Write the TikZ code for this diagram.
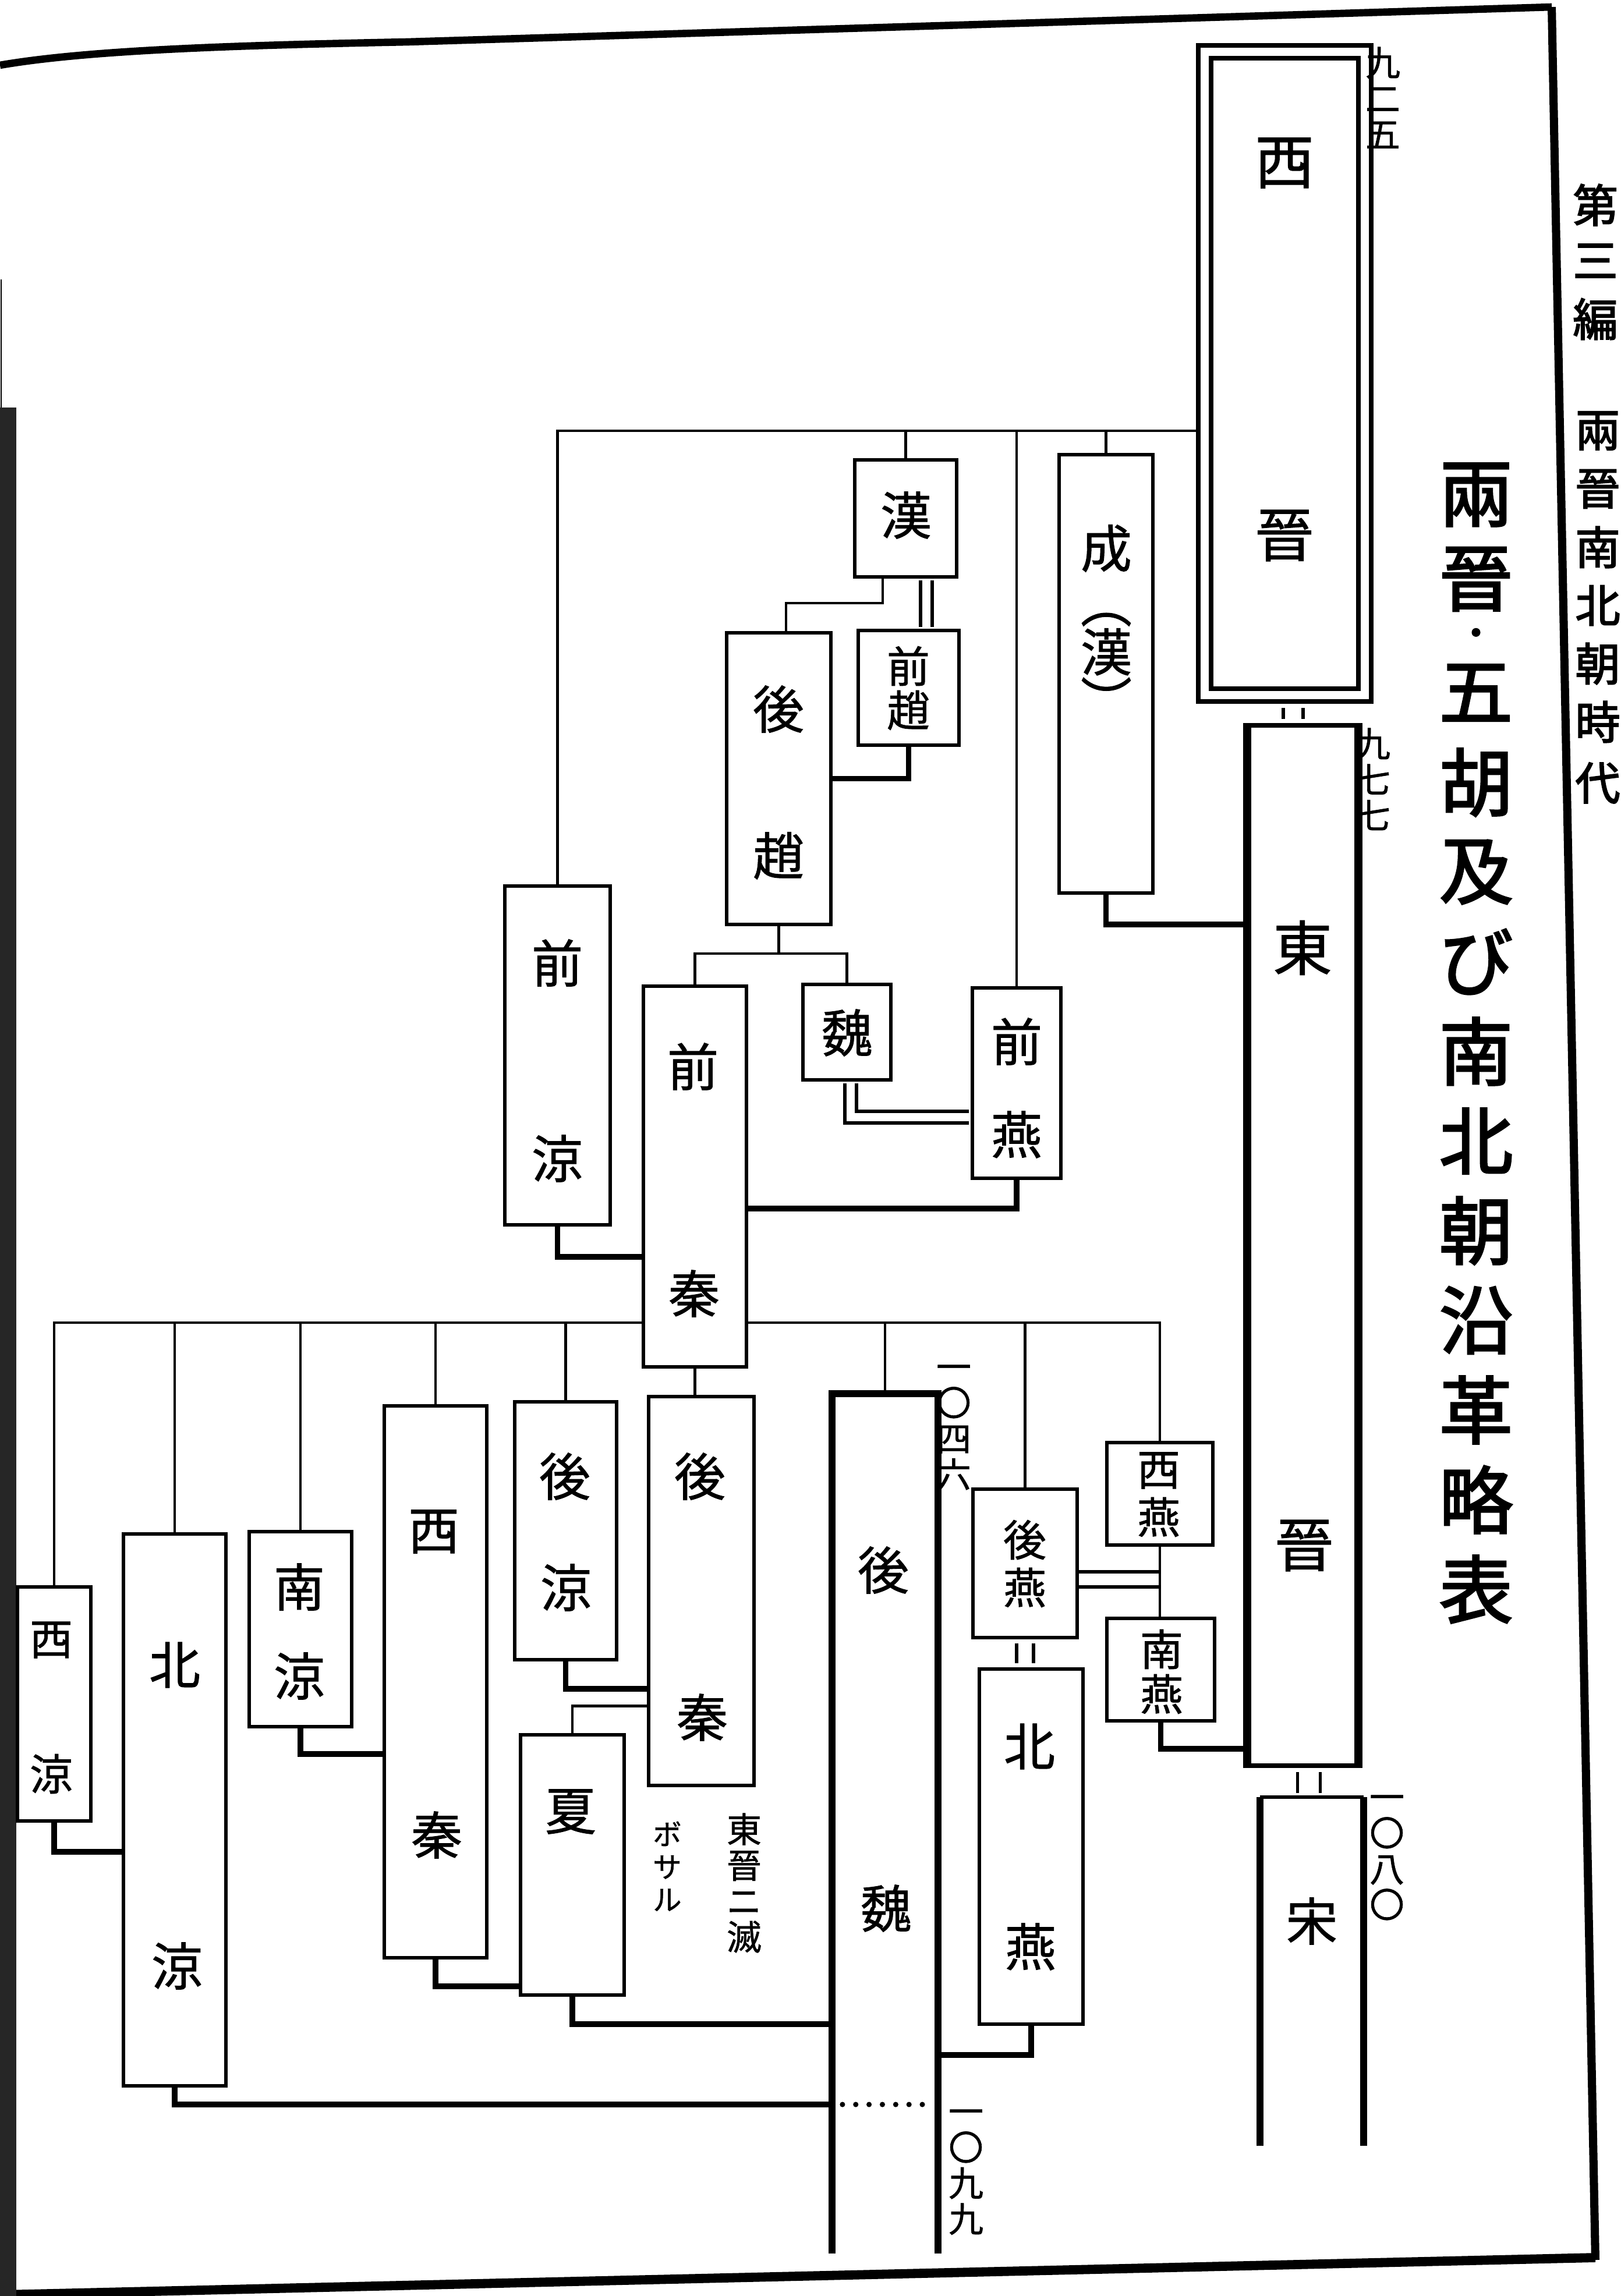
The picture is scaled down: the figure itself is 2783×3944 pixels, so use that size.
\documentclass[tikz,border=0pt]{standalone}
\usepackage{fontspec}
\usepackage{tikz}
\usetikzlibrary{fit,calc}
\newfontfamily\cjk{Noto Sans CJK JP}[FakeBold=1]
\newfontfamily\cjkbold{Noto Sans CJK JP}[FakeBold=2.5]

\tikzset{
  box/.style={draw, line width=1.7pt, inner sep=0pt},
  openbox/.style={inner sep=0pt},
  rim/.style={line width=1.7pt},
  thickside/.style={line width=3.4pt},
  link/.style={line width=1.4pt},
  heavy/.style={line width=2.8pt},
  succ/.style={double, double distance=#1, line width=1.6pt},
  succ/.default=4pt,
  dots/.style={line width=2.6pt, line cap=round, dash pattern=on 0pt off 6.5pt},
  lbl/.style={font=\cjk\fontsize{25}{25}\selectfont, inner sep=0pt},
  biglbl/.style={font=\cjk\fontsize{29}{29}\selectfont, inner sep=0pt},
  smalllbl/.style={font=\cjk\fontsize{21}{21}\selectfont, inner sep=0pt},
  num/.style={font=\cjk\fontsize{17}{17.5}\selectfont, align=center, inner sep=0pt, anchor=north},
  title/.style={font=\cjkbold\fontsize{36}{36}\selectfont, inner sep=0pt},
  sidetext/.style={font=\cjkbold\fontsize{22}{22}\selectfont, inner sep=0pt},
  frame/.style={line width=3.6pt}
}

\begin{document}
\begin{tikzpicture}[x=0.01cm, y=-0.01cm]
\useasboundingbox (0,0) rectangle (2783,3944);

% Page frame
\draw[frame] (0,112) .. controls (150,86) and (400,78) .. (700,72) -- (2665,12);
\draw[frame, line width=4pt] (2665,12) -- (2740,3882);
\draw[frame, line width=4.5pt] (0,3942) -- (2740,3878);
\fill[black!85] (0,700) rectangle (28,3944);
\draw[line width=0.8pt] (2,480) -- (2,700);

% Western and Eastern Jin, Song
\node[box, line width=2.4pt, fit={(2058,78) (2355,1205)}] (xijin) {};
\node[box, line width=2.4pt, fit={(2080,100) (2333,1183)}] (xijin-in) {};
\node[biglbl] (xijin-a) at (2206,280) {西};
\node[biglbl] (xijin-b) at (2206,920) {晉};

\node[box, line width=2.2pt, fit={(2145,1246) (2330,3033)}] (dongjin) {};
\draw[thickside] (dongjin.north west) -- (dongjin.south west) (dongjin.north east) -- (dongjin.south east);
\node[biglbl] (dongjin-a) at (2237,1628) {東};
\node[biglbl] (dongjin-b) at (2240,2655) {晉};

\node[openbox, fit={(2165,3088) (2341,3685)}] (song) {};
\draw[rim] (song.north west) -- (song.north east);
\draw[thickside] (song.north west) -- (song.south west) (song.north east) -- (song.south east);
\node[lbl] (song-a) at (2253,3300) {宋};

% Han, Former Zhao, Later Zhao, Cheng
\node[box, fit={(1468,790) (1643,991)}] (han) {};
\node[lbl] (han-a) at (1556,885) {漢};
\node[box, fit={(1474,1083) (1647,1280)}] (qianzhao) {};
\node[smalllbl] (qianzhao-a) at (1560,1144) {前};
\node[smalllbl] (qianzhao-b) at (1560,1220) {趙};
\node[box, fit={(1248,1087) (1427,1588)}] (houzhao) {};
\node[lbl] (houzhao-a) at (1337,1218) {後};
\node[lbl] (houzhao-b) at (1337,1470) {趙};
\node[box, fit={(1819,781) (1980,1534)}] (cheng) {};
\node[lbl] (cheng-a) at (1900,942) {成};
\node[lbl, font=\cjk\fontsize{25}{21}\selectfont, align=center] (cheng-b) at (1900,1145) {︵\\漢\\︶};

% Former Liang, Former Qin, Wei, Former Yan
\node[box, fit={(867,1522) (1048,2104)}] (qianliang) {};
\node[lbl] (qianliang-a) at (957,1654) {前};
\node[lbl] (qianliang-b) at (957,1990) {涼};
\node[box, fit={(1105,1694) (1282,2348)}] (qianqin) {};
\node[lbl] (qianqin-a) at (1190,1832) {前};
\node[lbl] (qianqin-b) at (1192,2222) {秦};
\node[box, fit={(1379,1691) (1530,1855)}] (wei) {};
\node[lbl] (wei-a) at (1455,1774) {魏};
\node[box, fit={(1670,1697) (1822,2024)}] (qianyan) {};
\node[lbl] (qianyan-a) at (1746,1789) {前};
\node[lbl] (qianyan-b) at (1746,1949) {燕};

% Lower row
\node[box, fit={(30,2726) (156,3128)}] (xiliang) {};
\node[smalllbl] (xiliang-a) at (88,2817) {西};
\node[smalllbl] (xiliang-b) at (88,3047) {涼};
\node[box, fit={(212,2635) (388,3583)}] (beiliang) {};
\node[lbl] (beiliang-a) at (300,2860) {北};
\node[lbl] (beiliang-b) at (304,3377) {涼};
\node[box, fit={(428,2631) (604,2966)}] (nanliang) {};
\node[lbl] (nanliang-a) at (514,2726) {南};
\node[lbl] (nanliang-b) at (514,2879) {涼};
\node[box, fit={(660,2415) (836,3363)}] (xiqin) {};
\node[lbl] (xiqin-a) at (745,2631) {西};
\node[lbl] (xiqin-b) at (750,3152) {秦};
\node[box, fit={(884,2408) (1059,2851)}] (houliang) {};
\node[lbl] (houliang-a) at (970,2536) {後};
\node[lbl] (houliang-b) at (972,2727) {涼};
\node[box, fit={(894,2980) (1072,3427)}] (xia) {};
\node[lbl] (xia-a) at (980,3112) {夏};
\node[box, fit={(1114,2399) (1295,3067)}] (houqin) {};
\node[lbl] (houqin-a) at (1202,2536) {後};
\node[lbl] (houqin-b) at (1206,2950) {秦};

\node[openbox, fit={(1430,2395) (1610,3870)}] (houwei) {};
\draw[thickside] (houwei.south west) -- (houwei.north west) -- (houwei.north east) -- (houwei.south east);
\node[lbl] (houwei-a) at (1517,2697) {後};
\node[lbl] (houwei-b) at (1522,3278) {魏};

\node[box, fit={(1671,2558) (1850,2813)}] (houyan) {};
\node[smalllbl] (houyan-a) at (1760,2645) {後};
\node[smalllbl] (houyan-b) at (1760,2727) {燕};
\node[box, fit={(1682,2867) (1860,3477)}] (beiyan) {};
\node[lbl] (beiyan-a) at (1768,3000) {北};
\node[lbl] (beiyan-b) at (1770,3344) {燕};
\node[box, fit={(1901,2478) (2083,2654)}] (xiyan) {};
\node[smalllbl] (xiyan-a) at (1990,2526) {西};
\node[smalllbl] (xiyan-b) at (1990,2606) {燕};
\node[box, fit={(1901,2780) (2086,2956)}] (nanyan) {};
\node[smalllbl] (nanyan-a) at (1995,2833) {南};
\node[smalllbl] (nanyan-b) at (1995,2910) {燕};

% Numbers
\node[num] (n925) at (2375,80) {九\\二\\五};
\node[num] (n977) at (2358,1250) {九\\七\\七};
\node[num] (n1046) at (1638,2344) {一\\〇\\四\\六};
\node[num] (n1080) at (2382,3083) {一\\〇\\八\\〇};
\node[num] (n1099) at (1659,3623) {一\\〇\\九\\九};

% Note under Later Qin
\node[num] (note-a) at (1278,3114) {東\\晉\\ニ\\滅};
\node[num, font=\cjk\fontsize{14}{16}\selectfont] (note-b) at (1146,3128) {ボ\\サ\\ル};

% Junction points
\coordinate (westbar) at (0,740);
\coordinate (hanbend1) at (1516,1036);
\coordinate (hanbend2) at (1350,1036);
\coordinate (hanqz) at (1591,0);
\coordinate (jinjin) at (2221,0);
\coordinate (jinsong) at (2248,0);
\coordinate (chengjin) at (0,1588);
\coordinate (zhaofork) at (0,1638);
\coordinate (weiyan) at (1461,1919);
\coordinate (yanqin) at (0,2076);
\coordinate (liangqin) at (0,2159);
\coordinate (qinbar) at (0,2272);
\coordinate (hlhq) at (0,2901);
\coordinate (xiahq) at (0,2930);
\coordinate (nydj) at (0,3004);
\coordinate (nlxq) at (0,3013);
\coordinate (xlbl) at (0,3181);
\coordinate (xqxia) at (0,3412);
\coordinate (xiahw) at (0,3477);
\coordinate (byhw) at (0,3530);
\coordinate (blhw) at (0,3615);
\coordinate (yanjoin) at (1992,2713);

% Upper bar from Western Jin
\draw[link] (qianliang.north) |- (westbar -| xijin.west);
\foreach \s in {han, cheng, qianyan}
  \draw[link] (\s.north) -- (\s.north |- westbar);

% Succession marks
\draw[succ=8pt, shorten <=2pt, shorten >=2pt] (jinjin |- xijin.south) -- (jinjin |- dongjin.north);
\draw[succ=9.5pt, shorten <=2pt, shorten >=2pt] (jinsong |- dongjin.south) -- (jinsong |- song.north);
\draw[succ, shorten <=0.9pt, shorten >=0.9pt] (hanqz |- han.south) -- (hanqz |- qianzhao.north);
\draw[succ=6.5pt, shorten <=2pt, shorten >=2pt] (houyan.south) -- (houyan.south |- beiyan.north);
\draw[succ, line join=miter, shorten <=0.9pt, shorten >=0.9pt] (weiyan |- wei.south) |- (weiyan -| qianyan.west);
\draw[succ=5.7pt] (yanjoin -| houyan.east) -- (yanjoin);

% Han to Later Zhao, Later Zhao fork
\draw[link] (hanbend1 |- han.south) -- (hanbend1) -- (hanbend2) -- (hanbend2 |- houzhao.north);
\draw[link] (houzhao.south) -- (houzhao.south |- zhaofork);
\draw[link] (qianqin.north) |- (zhaofork -| wei.north) -- (wei.north);

% Lower bar from Former Qin
\draw[link] (xiliang.north) |- (qinbar -| qianqin.west);
\draw[link] (xiyan.north) |- (qinbar -| qianqin.east);
\foreach \s in {beiliang, nanliang, xiqin, houliang, houwei, houyan}
  \draw[link] (\s.north) -- (\s.north |- qinbar);
\draw[link] (qianqin.south) -- (qianqin.south |- houqin.north);
\draw[link] (xiyan.south) -- (xiyan.south |- nanyan.north);

% Conquests
\draw[heavy] (qianzhao.south) |- (houzhao.east);
\draw[heavy] (cheng.south) |- (chengjin -| dongjin.west);
\draw[heavy] (qianyan.south) |- (yanqin -| qianqin.east);
\draw[heavy] (qianliang.south) |- (liangqin -| qianqin.west);
\draw[heavy] (xiliang.south) |- (xlbl -| beiliang.west);
\draw[heavy] (nanliang.south) |- (nlxq -| xiqin.west);
\draw[heavy] (xiqin.south) |- (xqxia -| xia.west);
\draw[heavy] (houliang.south) |- (hlhq -| houqin.west);
\draw[link] (xia.north) |- (xiahq -| houqin.west);
\draw[heavy] (xia.south) |- (xiahw -| houwei.west);
\draw[heavy] (beiliang.south) |- (blhw -| houwei.west);
\draw[dots, shorten <=5pt, shorten >=4pt] (blhw -| houwei.west) -- (blhw -| houwei.east);
\draw[heavy] (beiyan.south) |- (byhw -| houwei.east);
\draw[heavy] (nanyan.south) |- (nydj -| dongjin.west);

% Title
\foreach \ch/\ty [count=\i] in {兩/850, 晉/995, 五/1190, 胡/1344, 及/1498, び/1652, 南/1806, 北/1960, 朝/2114, 沿/2268, 革/2422, 略/2576, 表/2730}
  \node[title] (title\i) at (2535,\ty) {\ch};
\node[title, font=\cjkbold\fontsize{18}{18}\selectfont] (titledot) at (2535,1095) {・};

% Running head at the edge
\foreach \ch/\ty [count=\i] in {第/352, 三/448, 編/548}
  \node[sidetext] (part\i) at (2740,\ty) {\ch};
\foreach \ch/\ty [count=\i] in {兩/740, 晉/840, 南/940, 北/1040, 朝/1140, 時/1240, 代/1345}
  \node[sidetext] (era\i) at (2744,\ty) {\ch};
\end{tikzpicture}
\end{document}
